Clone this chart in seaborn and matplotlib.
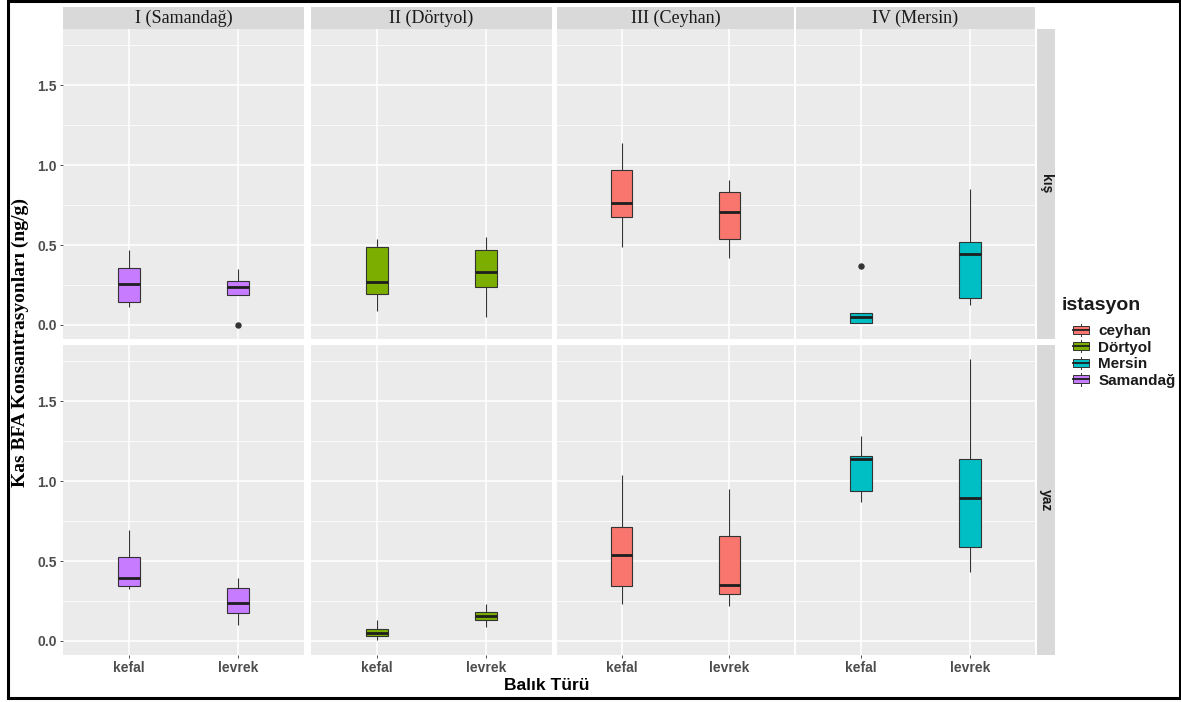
import numpy as np
import pandas as pd
import matplotlib
matplotlib.use("Agg")
import matplotlib.pyplot as plt
import seaborn as sns
from matplotlib.patches import Rectangle, Patch
from matplotlib.lines import Line2D
from matplotlib.legend_handler import HandlerBase

# ---------------- data ----------------
stations = ["Samandağ", "Dörtyol", "ceyhan", "Mersin"]          # facet column order
column_titles = ["I (Samandağ)", "II (Dörtyol)", "III (Ceyhan)", "IV (Mersin)"]
seasons = ["kış", "yaz"]
species = ["kefal", "levrek"]
legend_order = ["ceyhan", "Dörtyol", "Mersin", "Samandağ"]
legend_colors = ["#F8766D", "#7CAE00", "#00BFC4", "#C77CFF"]

samandag_kis_kefal = [0.115, 0.146, 0.255, 0.355, 0.470]
samandag_kis_levrek = [0.000, 0.190, 0.240, 0.276, 0.349]
samandag_yaz_kefal = [0.327, 0.342, 0.392, 0.527, 0.694]
samandag_yaz_levrek = [0.098, 0.173, 0.238, 0.329, 0.396]

dortyol_kis_kefal = [0.088, 0.192, 0.267, 0.490, 0.537]
dortyol_kis_levrek = [0.052, 0.236, 0.332, 0.470, 0.550]
dortyol_yaz_kefal = [0.006, 0.029, 0.052, 0.077, 0.131]
dortyol_yaz_levrek = [0.090, 0.131, 0.159, 0.181, 0.229]

ceyhan_kis_kefal = [0.490, 0.677, 0.766, 0.969, 1.142]
ceyhan_kis_levrek = [0.422, 0.541, 0.708, 0.835, 0.908]
ceyhan_yaz_kefal = [0.229, 0.344, 0.536, 0.715, 1.042]
ceyhan_yaz_levrek = [0.219, 0.294, 0.352, 0.656, 0.952]

mersin_kis_kefal = [0.015, 0.015, 0.048, 0.077, 0.372]
mersin_kis_levrek = [0.123, 0.171, 0.445, 0.522, 0.850]
mersin_yaz_kefal = [0.873, 0.938, 1.142, 1.159, 1.281]
mersin_yaz_levrek = [0.434, 0.588, 0.898, 1.140, 1.765]

groups = {
    ("Samandağ", "kış", "kefal"): samandag_kis_kefal,
    ("Samandağ", "kış", "levrek"): samandag_kis_levrek,
    ("Samandağ", "yaz", "kefal"): samandag_yaz_kefal,
    ("Samandağ", "yaz", "levrek"): samandag_yaz_levrek,
    ("Dörtyol", "kış", "kefal"): dortyol_kis_kefal,
    ("Dörtyol", "kış", "levrek"): dortyol_kis_levrek,
    ("Dörtyol", "yaz", "kefal"): dortyol_yaz_kefal,
    ("Dörtyol", "yaz", "levrek"): dortyol_yaz_levrek,
    ("ceyhan", "kış", "kefal"): ceyhan_kis_kefal,
    ("ceyhan", "kış", "levrek"): ceyhan_kis_levrek,
    ("ceyhan", "yaz", "kefal"): ceyhan_yaz_kefal,
    ("ceyhan", "yaz", "levrek"): ceyhan_yaz_levrek,
    ("Mersin", "kış", "kefal"): mersin_kis_kefal,
    ("Mersin", "kış", "levrek"): mersin_kis_levrek,
    ("Mersin", "yaz", "kefal"): mersin_yaz_kefal,
    ("Mersin", "yaz", "levrek"): mersin_yaz_levrek,
}

records = []
for (st, se, sp), vals in groups.items():
    for v in vals:
        records.append({"istasyon": st, "mevsim": se, "tur": sp, "deger": v})
df = pd.DataFrame(records)
palette = dict(zip(legend_order, legend_colors))

# ---------------- layout ----------------
W, H = 1181, 702
fig = plt.figure(figsize=(W / 100, H / 100), dpi=100)
fig.patch.set_facecolor("white")

def rect(x0, y0, x1, y1):
    return [x0 / W, 1 - y1 / H, (x1 - x0) / W, (y1 - y0) / H]

col_x = [(63, 304), (311, 552), (557, 794), (796, 1035)]
row_y = [(29, 339), (345, 655)]
strip_top = (7, 29)
strip_right = (1037, 1055)

SANS = ["Liberation Sans", "DejaVu Sans"]
SERIF = ["Liberation Serif", "DejaVu Serif"]
TICK_COLOR = "#4D4D4D"

dmin, dmax = df["deger"].min(), df["deger"].max()
pad = 0.05 * (dmax - dmin)
ylim = (dmin - pad, dmax + pad)

for r, season in enumerate(seasons):
    for c, station in enumerate(stations):
        ax = fig.add_axes(rect(col_x[c][0], row_y[r][0], col_x[c][1], row_y[r][1]))
        sub = df[(df["istasyon"] == station) & (df["mevsim"] == season)]
        sns.boxplot(
            data=sub, x="tur", y="deger", order=species,
            color=palette[station], saturation=1, width=0.2,
            linecolor="#333333", linewidth=0.8, showcaps=False,
            medianprops=dict(color="#1E1E1E", linewidth=2.0),
            flierprops=dict(marker="o", markersize=3.6,
                            markerfacecolor="#333333", markeredgecolor="#333333"),
            ax=ax,
        )
        ax.set_xlim(-0.6, 1.6)
        ax.set_ylim(*ylim)
        ax.set_facecolor("#EBEBEB")
        ax.set_axisbelow(True)
        ax.set_yticks([0.0, 0.5, 1.0, 1.5])
        ax.set_yticks([0.25, 0.75, 1.25, 1.75], minor=True)
        ax.grid(which="major", color="white", linewidth=1.1)
        ax.grid(which="minor", axis="y", color="white", linewidth=0.55)
        ax.tick_params(which="minor", length=0)
        ax.tick_params(which="major", length=2.5, width=0.7, color=TICK_COLOR, pad=2)
        for s in ax.spines.values():
            s.set_visible(False)
        ax.set_xlabel("")
        ax.set_ylabel("")
        ax.set_yticklabels(["0.0", "0.5", "1.0", "1.5"])
        for lab in ax.get_yticklabels() + ax.get_xticklabels():
            lab.set_fontfamily(SANS)
            lab.set_fontweight("bold")
            lab.set_fontsize(10)
            lab.set_color(TICK_COLOR)
        if c != 0:
            ax.tick_params(axis="y", which="major", labelleft=False, length=0)
        if r != 1:
            ax.tick_params(axis="x", which="major", labelbottom=False, length=0)

        # top strips
        if r == 0:
            sax = fig.add_axes(rect(col_x[c][0], strip_top[0], col_x[c][1], strip_top[1]))
            sax.set_facecolor("#D9D9D9")
            sax.set_xticks([]); sax.set_yticks([])
            for s in sax.spines.values():
                s.set_visible(False)
            sax.text(0.5, 0.48, column_titles[c], transform=sax.transAxes,
                     ha="center", va="center", fontsize=13, family=SERIF,
                     color="#1A1A1A")
        # right strips
        if c == len(stations) - 1:
            rax = fig.add_axes(rect(strip_right[0], row_y[r][0], strip_right[1], row_y[r][1]))
            rax.set_facecolor("#D9D9D9")
            rax.set_xticks([]); rax.set_yticks([])
            for s in rax.spines.values():
                s.set_visible(False)
            rax.text(0.5, 0.5, season, transform=rax.transAxes, rotation=-90,
                     ha="center", va="center", fontsize=10, family=SANS,
                     fontweight="bold", color="#1A1A1A")

# axis titles
fig.text(20 / W, 1 - 342 / H, "Kas BFA Konsantrasyonları (ng/g)", rotation=90,
         ha="center", va="center", fontsize=14, family=SERIF, fontweight="bold",
         color="black")
fig.text(547 / W, 1 - 686 / H, "Balık Türü", ha="center", va="center",
         fontsize=12.5, family=SANS, fontweight="bold", color="black")

# legend with boxplot glyph keys
class BoxHandler(HandlerBase):
    def create_artists(self, legend, orig_handle, xdescent, ydescent,
                       width, height, fontsize, trans):
        fc = orig_handle.get_facecolor()
        x0, y0 = -xdescent, -ydescent
        cx, cy = x0 + width / 2, y0 + height / 2
        bw, bh = width * 0.95, height * 0.72
        wh = Line2D([cx, cx], [y0 - height * 0.05, y0 + height * 1.05],
                    color="#333333", lw=0.7, transform=trans)
        box = Rectangle((cx - bw / 2, cy - bh / 2), bw, bh, facecolor=fc,
                        edgecolor="#333333", lw=0.7, transform=trans)
        med = Line2D([cx - bw / 2, cx + bw / 2], [cy, cy], color="#1E1E1E",
                     lw=1.3, transform=trans)
        return [wh, box, med]

fig.text(1062 / W, 1 - 306 / H, "istasyon", ha="left", va="center",
         fontsize=14, family=SANS, fontweight="bold", color="#1A1A1A")

handles = [Patch(facecolor=col, edgecolor="#333333") for col in legend_colors]
leg = fig.legend(handles, legend_order, loc="upper left",
                 bbox_to_anchor=(1073 / W, 1 - 324 / H), frameon=False,
                 handler_map={Patch: BoxHandler()},
                 prop={"family": SANS, "weight": "bold", "size": 11},
                 handlelength=1.05, handleheight=0.75, handletextpad=0.6,
                 labelspacing=0.17, borderpad=0, borderaxespad=0)
for t in leg.get_texts():
    t.set_color("#1A1A1A")

# outer frame
fig.add_artist(Rectangle((8 / W, 1 - 698 / H), (1180 - 8) / W, (698 - 1) / H,
                         transform=fig.transFigure, fill=False,
                         edgecolor="black", linewidth=2.2))

fig.savefig("out.png", dpi=100)
